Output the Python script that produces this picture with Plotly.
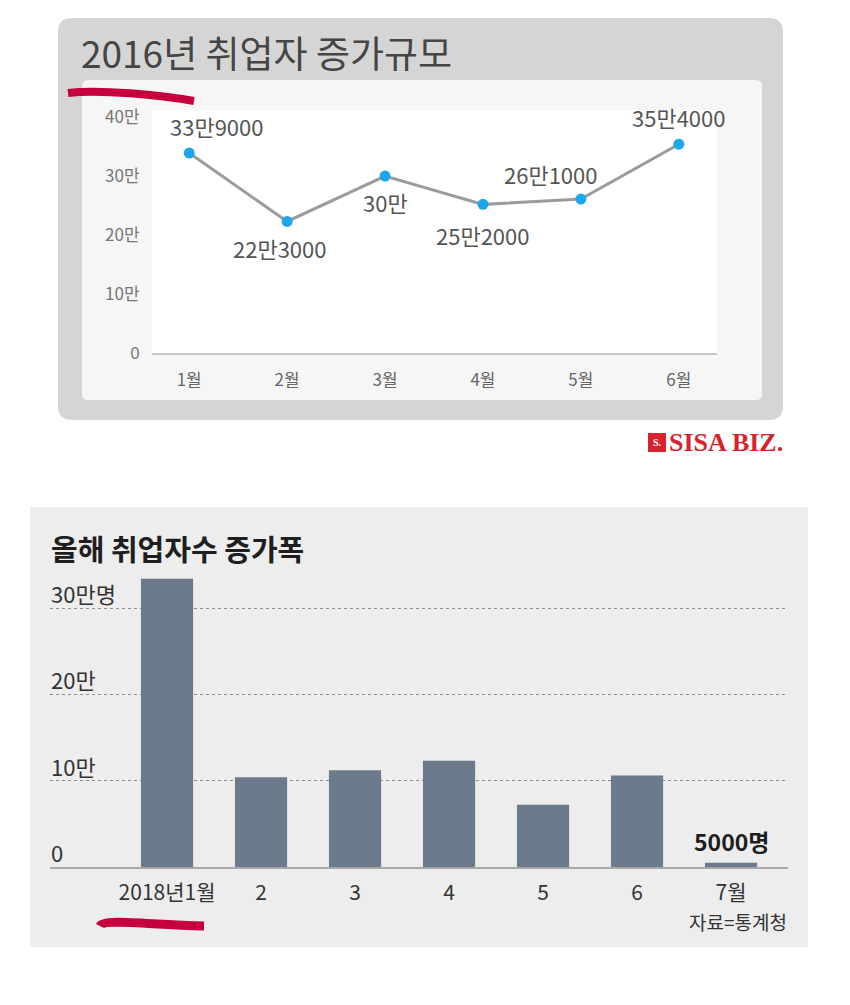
import plotly.graph_objects as go

W, H = 850, 1005

# ---------------- data ----------------
months_2016 = ["1월", "2월", "3월", "4월", "5월", "6월"]
growth_2016 = [339000, 223000, 300000, 252000, 261000, 354000]
labels_2016 = ["33만9000", "22만3000", "30만", "25만2000", "26만1000", "35만4000"]
yticks_2016 = [0, 100000, 200000, 300000, 400000]
yticktext_2016 = ["0", "10만", "20만", "30만", "40만"]

months_2018 = ["2018년1월", "2", "3", "4", "5", "6", "7월"]
growth_2018 = [334000, 104000, 112000, 123000, 72000, 106000, 5000]
yticks_2018 = [0, 100000, 200000, 300000]
yticktext_2018 = ["0", "10만", "20만", "30만명"]

# label placement for the 2016 line labels (layout, not data)
label_dy = [27, -27, -26, -31, 25, 27]
label_dx = [28, -7, 0, 0, -30, 0]


def fx(p):
    return p / W


def fy(p):
    return 1 - p / H


def rrect(x0, y0, x1, y1, r):
    rx, ry = r / W, r / H
    X0, X1 = fx(x0), fx(x1)
    Y0, Y1 = fy(y0), fy(y1)  # Y0 top (bigger), Y1 bottom
    return (f"M {X0+rx},{Y0} L {X1-rx},{Y0} Q {X1},{Y0} {X1},{Y0-ry} "
            f"L {X1},{Y1+ry} Q {X1},{Y1} {X1-rx},{Y1} L {X0+rx},{Y1} "
            f"Q {X0},{Y1} {X0},{Y1+ry} L {X0},{Y0-ry} Q {X0},{Y0} {X0+rx},{Y0} Z")


KR = "Noto Sans CJK KR"
NARROW = "Liberation Sans Narrow, Noto Sans CJK KR"

fig = go.Figure()

fig.add_trace(go.Scatter(
    x=months_2016, y=growth_2016, mode="lines+markers",
    line=dict(color="#9b9b9b", width=3),
    marker=dict(color="#1da6ea", size=11),
    xaxis="x", yaxis="y", hoverinfo="skip", showlegend=False,
))

fig.add_trace(go.Bar(
    x=months_2018, y=growth_2018, width=0.555,
    marker=dict(color="#6b7b8c", line=dict(width=0)),
    xaxis="x2", yaxis="y2", hoverinfo="skip", showlegend=False,
))

shapes = [
    dict(type="path", path=rrect(58, 18, 783, 420, 14), xref="paper", yref="paper",
         fillcolor="#d5d5d5", line=dict(width=0), layer="below"),
    dict(type="path", path=rrect(82, 80, 762, 400, 6), xref="paper", yref="paper",
         fillcolor="#f6f6f6", line=dict(width=0), layer="below"),
    dict(type="rect", x0=fx(152), x1=fx(717), y0=fy(353), y1=fy(110), xref="paper", yref="paper",
         fillcolor="#ffffff", line=dict(width=0), layer="below"),
    dict(type="rect", x0=fx(30), x1=fx(808), y0=fy(947), y1=fy(507), xref="paper", yref="paper",
         fillcolor="#ededed", line=dict(width=0), layer="below"),
    # logo box
    dict(type="rect", x0=fx(648), x1=fx(666), y0=fy(452), y1=fy(433), xref="paper", yref="paper",
         fillcolor="#d8232e", line=dict(width=0)),
    # red hand-drawn underlines
    dict(type="path", xref="paper", yref="paper",
         path=f"M {fx(68)},{fy(93)} C {fx(100)},{fy(89)} {fx(160)},{fy(95)} {fx(194)},{fy(101)}",
         line=dict(color="#c6003c", width=8)),
    dict(type="path", xref="paper", yref="paper",
         path=f"M {fx(100)},{fy(926)} C {fx(104)},{fy(918)} {fx(150)},{fy(925)} {fx(204)},{fy(926)}",
         line=dict(color="#c6003c", width=9)),
]

annotations = [
    dict(text="2016년 취업자 증가규모", x=fx(79), y=fy(52), xref="paper", yref="paper",
         xanchor="left", yanchor="middle", showarrow=False,
         font=dict(family=KR, size=37, color="#454545")),
    dict(text="올해 취업자수 증가폭", x=fx(49), y=fy(548), xref="paper", yref="paper",
         xanchor="left", yanchor="middle", showarrow=False,
         font=dict(family=KR, size=29, color="#1e1e1e", weight="bold")),
    dict(text="S.", x=fx(657), y=fy(443), xref="paper", yref="paper",
         xanchor="center", yanchor="middle", showarrow=False,
         font=dict(family="Liberation Serif", size=10, color="#ffffff", weight="bold")),
    dict(text="SISA BIZ.", x=fx(667), y=fy(443), xref="paper", yref="paper",
         xanchor="left", yanchor="middle", showarrow=False,
         font=dict(family="Liberation Serif", size=26, color="#d8232e", weight="bold")),
    dict(text="자료=통계청", x=fx(789), y=fy(921), xref="paper", yref="paper",
         xanchor="right", yanchor="middle", showarrow=False,
         font=dict(family=NARROW, size=19, color="#333333")),
    dict(text="5000명", x=months_2018[-1], y=growth_2018[-1], xref="x2", yref="y2",
         xanchor="center", yanchor="bottom", yshift=3, showarrow=False,
         font=dict(family=NARROW, size=23, color="#1e1e1e", weight="bold")),
]

for m, v, t, dy, dx in zip(months_2016, growth_2016, labels_2016, label_dy, label_dx):
    annotations.append(dict(text=t, x=m, y=v, xref="x", yref="y", showarrow=False,
                            xanchor="center", yanchor="middle", yshift=dy, xshift=dx,
                            font=dict(family=KR, size=22, color="#555555")))

for v, t in zip(yticks_2018, yticktext_2018):
    annotations.append(dict(text=t, x=fx(49), y=v, xref="paper", yref="y2", showarrow=False,
                            xanchor="left", yanchor="middle", yshift=15,
                            font=dict(family=NARROW, size=22, color="#333333")))

fig.update_layout(
    width=W, height=H, margin=dict(l=0, r=0, t=0, b=0, autoexpand=False),
    paper_bgcolor="#ffffff", plot_bgcolor="rgba(0,0,0,0)",
    font=dict(family=KR),
    shapes=shapes, annotations=annotations,
    xaxis=dict(domain=[fx(152), fx(717)], anchor="y", type="category", range=[-0.38, 5.39],
               showline=True, linecolor="#c6c6c6", linewidth=2, showgrid=False, zeroline=False,
               ticks="outside", ticklen=11, tickcolor="rgba(0,0,0,0)", automargin=False,
               tickfont=dict(family=KR, size=17, color="#666666"), fixedrange=True),
    yaxis=dict(domain=[fy(353), fy(110)], anchor="x", range=[0, 412000],
               showgrid=False, zeroline=False, showline=False,
               tickvals=yticks_2016, ticktext=yticktext_2016, automargin=False,
               ticks="outside", ticklen=8, tickcolor="rgba(0,0,0,0)",
               tickfont=dict(family=KR, size=17, color="#777777"), fixedrange=True),
    xaxis2=dict(domain=[fx(50), fx(788)], anchor="y2", type="category", range=[-1.245, 6.606],
                showline=True, linecolor="#a9a9a9", linewidth=2, showgrid=False, zeroline=False,
                ticks="outside", ticklen=6, tickcolor="rgba(0,0,0,0)", automargin=False,
                tickfont=dict(family=NARROW, size=21, color="#333333"), fixedrange=True),
    yaxis2=dict(domain=[fy(867), fy(560)], anchor="x2", range=[0, 355700],
                tickvals=yticks_2018, showticklabels=False, automargin=False,
                showgrid=True, gridcolor="#8f8f8f", gridwidth=1, griddash="dot",
                zeroline=False, showline=False, fixedrange=True),
)

fig.write_html("out.html")
